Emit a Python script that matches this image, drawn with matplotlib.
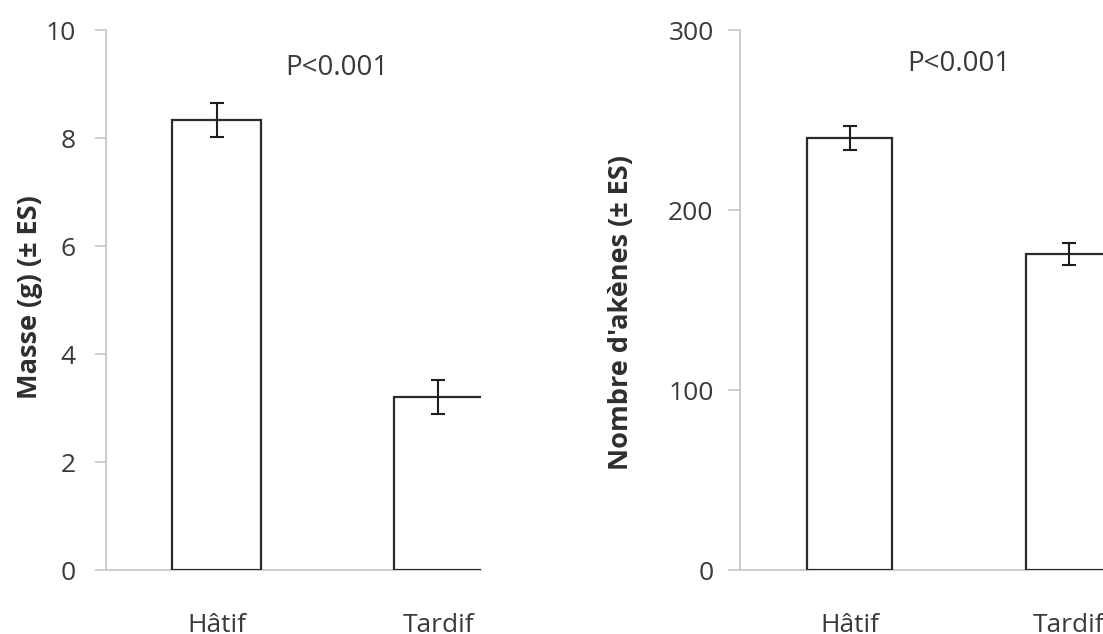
import numpy as np
import matplotlib
matplotlib.use('Agg')
import matplotlib.pyplot as plt

# fruit traits by ripening group
categories = ['Hâtif', 'Tardif']
masse = [8.33, 3.20]
masse_es = [0.32, 0.32]
akenes = [240.0, 175.5]
akenes_es = [6.5, 6.0]

masse_ticks = [0, 2, 4, 6, 8, 10]
akenes_ticks = [0, 100, 200, 300]
p_text = 'P<0.001'

plt.rcParams['font.family'] = ['Open Sans', 'DejaVu Sans']

W, H = 1103, 634
fig = plt.figure(figsize=(W / 100, H / 100), dpi=100)
fig.patch.set_facecolor('white')

text_col = '#3a3a3a'
axis_col = '#c8c8c8'
bar_col = '#2b2b2b'


def px_axes(left, right, top, bottom):
    return fig.add_axes([left / W, 1 - bottom / H, (right - left) / W, (bottom - top) / H])


def draw_panel(ax, values, errs, ticks, ymax, cat_w_px, ax_w_px, bar_w, tick_len, ypad):
    x = np.arange(len(values)) + 0.5
    ax.bar(x, values, width=bar_w, color='white', edgecolor=bar_col,
           linewidth=1.6, zorder=3)
    ax.errorbar(x, values, yerr=errs, fmt='none', ecolor='#1e1e1e',
                elinewidth=1.5, capsize=4.8, capthick=1.5, zorder=4)
    ax.set_xlim(0, ax_w_px / cat_w_px)
    ax.set_ylim(0, ymax)
    ax.set_yticks(ticks)
    ax.set_xticks(x)
    ax.set_xticklabels(categories)
    for s in ['top', 'right']:
        ax.spines[s].set_visible(False)
    for s in ['left', 'bottom']:
        ax.spines[s].set_color(axis_col)
        ax.spines[s].set_linewidth(1.3)
        ax.spines[s].set_zorder(1)
    ax.tick_params(axis='y', direction='out', length=tick_len, width=1.2,
                   color=axis_col, labelcolor=text_col, labelsize=19, pad=ypad)
    ax.tick_params(axis='x', length=0, labelcolor=text_col, labelsize=19, pad=31)
    ax.patch.set_alpha(0)


# left panel: mass
ax1 = px_axes(106, 481, 30, 570)
draw_panel(ax1, masse, masse_es, masse_ticks, 10, 221.5, 375, 0.40, 8, 14)
fig.text(30 / W, 1 - 297 / H, 'Masse (g) (± ES)', rotation=90, ha='center',
         va='center', fontsize=19.5, fontweight='bold', color='#2e2e2e')
fig.text(337 / W, 1 - 68 / H, p_text, ha='center', va='center',
         fontsize=20, color=text_col)

# right panel: achene count
ax2 = px_axes(740, 1103, 30, 570)
draw_panel(ax2, akenes, akenes_es, akenes_ticks, 300, 219, 363, 0.39, 9, 10)
fig.text(621 / W, 1 - 312 / H, "Nombre d'akènes (± ES)", rotation=90,
         ha='center', va='center', fontsize=19.5, fontweight='bold', color='#2e2e2e')
fig.text(959 / W, 1 - 64 / H, p_text, ha='center', va='center',
         fontsize=20, color=text_col)

fig.savefig('out.png', dpi=100)
